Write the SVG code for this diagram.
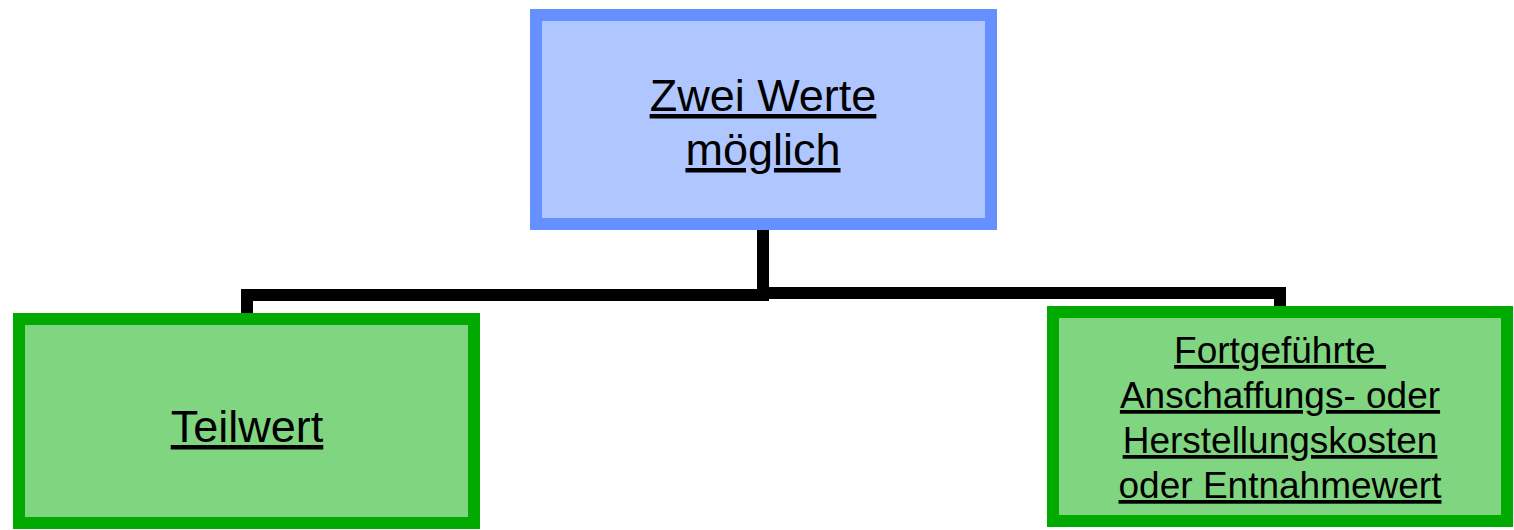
<svg xmlns="http://www.w3.org/2000/svg" width="1514" height="530" viewBox="0 0 1514 530">
<style>
.lbl{font-family:"Liberation Sans",Arial,sans-serif;fill:#000;text-anchor:middle;text-decoration:underline;white-space:pre}
.blue{fill:#b0c6ff;stroke:#668fff;stroke-width:12}
.green{fill:#80d580;stroke:#00aa00;stroke-width:12}
.conn{fill:none;stroke:#000;stroke-width:12;stroke-linejoin:miter;stroke-linecap:butt}
</style>
<rect width="1514" height="530" fill="#fff"/>
<g id="connectors">
<path class="conn" d="M763,230 V295 H247 V313"/>
<path class="conn" d="M763,230 V293 H1280 V312"/>
</g>
<g id="node-zwei-werte">
<rect class="blue" x="536" y="15" width="455" height="209"/>
<text class="lbl" font-size="45" x="763" y="111">Zwei Werte</text>
<text class="lbl" font-size="45" x="763" y="165">möglich</text>
</g>
<g id="node-teilwert">
<rect class="green" x="19" y="319" width="455" height="204"/>
<text class="lbl" font-size="45" x="247" y="442">Teilwert</text>
</g>
<g id="node-fortgefuehrte">
<rect class="green" x="1053" y="312" width="454" height="209"/>
<text class="lbl" font-size="37" x="1280" y="363" xml:space="preserve">Fortgeführte </text>
<text class="lbl" font-size="37" x="1280" y="408">Anschaffungs- oder</text>
<text class="lbl" font-size="37" x="1280" y="453">Herstellungskosten</text>
<text class="lbl" font-size="37" x="1280" y="498">oder Entnahmewert</text>
</g>
</svg>
